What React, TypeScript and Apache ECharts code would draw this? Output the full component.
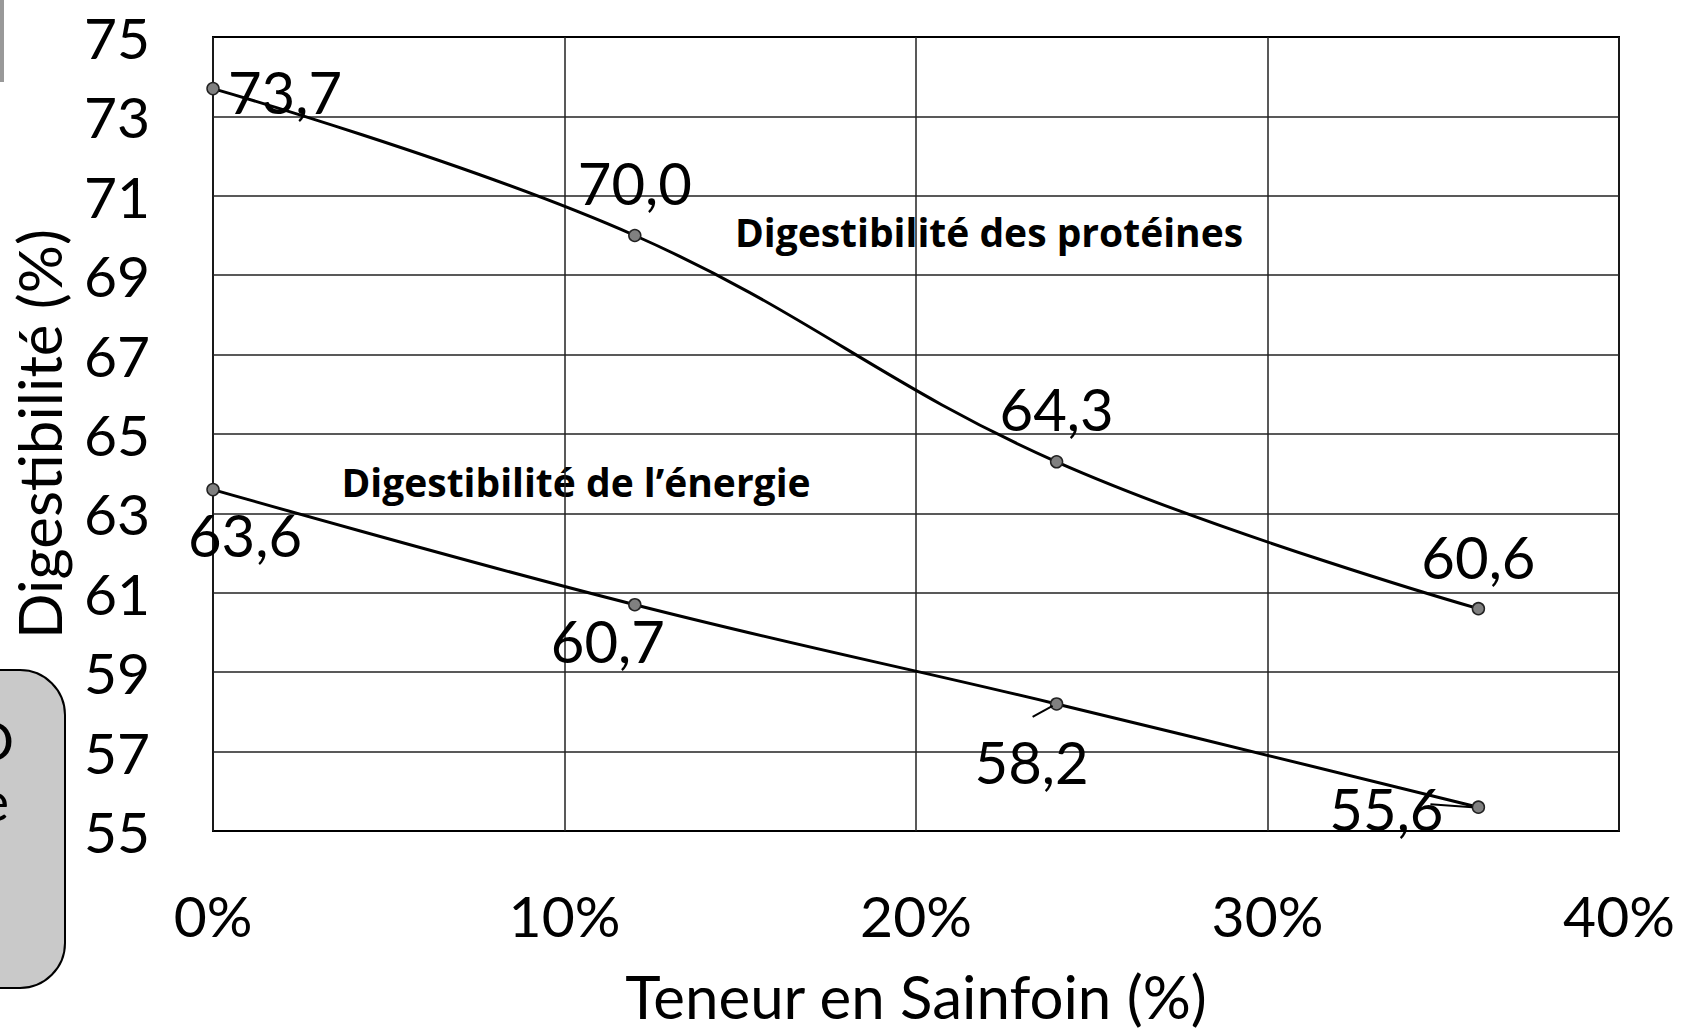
import React, { useEffect, useRef } from "react";
import * as echarts from "echarts";

const xValues = [0, 12, 24, 36];
const proteinValues = [73.7, 70.0, 64.3, 60.6];
const energyValues = [63.6, 60.7, 58.2, 55.6];
const yGridTicks = [57, 59, 61, 63, 65, 67, 69, 71, 73];
const proteinLabelOffsets = [[72, 3], [0, -53], [0, -53], [0, -52]];
const energyLabelOffsets = [[32, 45], [-27, 36], [-25, 58], [-92, 1]];

const FONT = "Lato";

const fmt = (v: number) => v.toFixed(1).replace(".", ",");

function buildData(vals: number[], offsets: number[][]) {
  return vals.map((v, i) => ({
    value: [xValues[i], v],
    label: {
      show: true,
      position: "inside",
      offset: offsets[i],
      formatter: fmt(v),
      fontFamily: FONT,
      fontSize: 58,
      color: "#000",
      align: "center",
      verticalAlign: "middle",
    },
  }));
}

export default function App() {
  const ref = useRef<HTMLDivElement>(null);
  useEffect(() => {
    const chart = echarts.init(ref.current!, null, { renderer: "svg" });
    const baseGraphics: any[] = [
      {
        type: "rect",
        shape: { x: 0, y: 0, width: 4, height: 82 },
        style: { fill: "#999" },
      },
      {
        type: "rect",
        shape: { x: -60, y: 670, width: 125, height: 318, r: 45 },
        style: { fill: "#c9c9c9", stroke: "#000", lineWidth: 2 },
      },
      {
        type: "text",
        x: 14,
        y: 740,
        style: {
          text: "O",
          font: `55px ${FONT}`,
          fill: "#000",
          align: "right",
          verticalAlign: "middle",
        },
      },
      {
        type: "text",
        x: 9,
        y: 800,
        style: {
          text: "e",
          font: `55px ${FONT}`,
          fill: "#000",
          align: "right",
          verticalAlign: "middle",
        },
      },
      {
        type: "text",
        x: 989,
        y: 231,
        style: {
          text: "Digestibilité des protéines",
          font: `bold 39px 'Open Sans'`,
          fill: "#000",
          align: "center",
          verticalAlign: "middle",
        },
      },
      {
        type: "text",
        x: 576,
        y: 481,
        style: {
          text: "Digestibilité de l’énergie",
          font: `bold 39px 'Open Sans'`,
          fill: "#000",
          align: "center",
          verticalAlign: "middle",
        },
      },
    ];
    chart.setOption({
      animation: false,
      backgroundColor: "#fff",
      grid: {
        left: 213,
        right: 64,
        top: 37,
        bottom: 202,
        show: true,
        borderColor: "#000",
        borderWidth: 2,
        backgroundColor: "transparent",
        containLabel: false,
        outerBoundsMode: "none",
      },
      xAxis: {
        type: "value",
        min: 0,
        max: 40,
        interval: 10,
        name: "Teneur en Sainfoin (%)",
        nameLocation: "middle",
        nameGap: 135,
        nameTextStyle: { fontFamily: FONT, fontSize: 60, color: "#000" },
        axisLine: { show: false },
        axisTick: { show: false },
        axisLabel: {
          formatter: "{value}%",
          fontFamily: FONT,
          fontSize: 57,
          color: "#000",
          margin: 55,
        },
        splitLine: { show: true, lineStyle: { color: "#222", width: 1.5 } },
      },
      yAxis: {
        type: "value",
        min: 55,
        max: 75,
        interval: 1,
        name: "Digestibilité (%)",
        nameLocation: "middle",
        nameGap: 144,
        nameRotate: 90,
        nameTextStyle: { fontFamily: FONT, fontSize: 60, color: "#000" },
        axisLine: { show: false },
        axisTick: { show: false },
        axisLabel: {
          formatter: (v: number) => (Math.round(v) % 2 === 1 ? String(v) : ""),
          fontFamily: FONT,
          fontSize: 57,
          color: "#000",
          margin: 63,
          padding: [0, 0, 6, 0],
        },
        splitLine: { show: false },
      },
      graphic: baseGraphics,
      series: [
        {
          name: "grid",
          type: "line",
          data: [],
          markLine: {
            silent: true,
            symbol: "none",
            label: { show: false },
            lineStyle: { color: "#222", width: 1.5, type: "solid" },
            data: yGridTicks.map((t) => ({ yAxis: t })),
          },
        },
        {
          name: "Digestibilité des protéines",
          type: "line",
          smooth: 0.4,
          data: buildData(proteinValues, proteinLabelOffsets),
          symbol: "circle",
          symbolSize: 12,
          lineStyle: { color: "#000", width: 3 },
          itemStyle: { color: "#808080", borderColor: "#222", borderWidth: 1.5 },
          z: 5,
        },
        {
          name: "Digestibilité de l'énergie",
          type: "line",
          smooth: 0.4,
          data: buildData(energyValues, energyLabelOffsets),
          symbol: "circle",
          symbolSize: 12,
          lineStyle: { color: "#000", width: 3 },
          itemStyle: { color: "#808080", borderColor: "#222", borderWidth: 1.5 },
          z: 5,
        },
      ],
    });
    // leader lines for two energy labels, anchored at the data points via the axis scale
    const p2 = chart.convertToPixel({ gridIndex: 0 }, [xValues[2], energyValues[2]]) as number[];
    const p3 = chart.convertToPixel({ gridIndex: 0 }, [xValues[3], energyValues[3]]) as number[];
    chart.setOption({
      graphic: [
        ...baseGraphics,
        {
          type: "line",
          shape: { x1: p2[0] - 4, y1: p2[1] + 2, x2: p2[0] - 24, y2: p2[1] + 13 },
          style: { stroke: "#000", lineWidth: 2 },
          z: 10,
        },
        {
          type: "line",
          shape: { x1: p3[0] - 6, y1: p3[1], x2: p3[0] - 48, y2: p3[1] - 3 },
          style: { stroke: "#000", lineWidth: 2 },
          z: 10,
        },
      ],
    });
    return () => chart.dispose();
  }, []);
  return (
    <div
      ref={ref}
      style={{ position: "absolute", left: 0, top: 0, width: 1683, height: 1033 }}
    />
  );
}
